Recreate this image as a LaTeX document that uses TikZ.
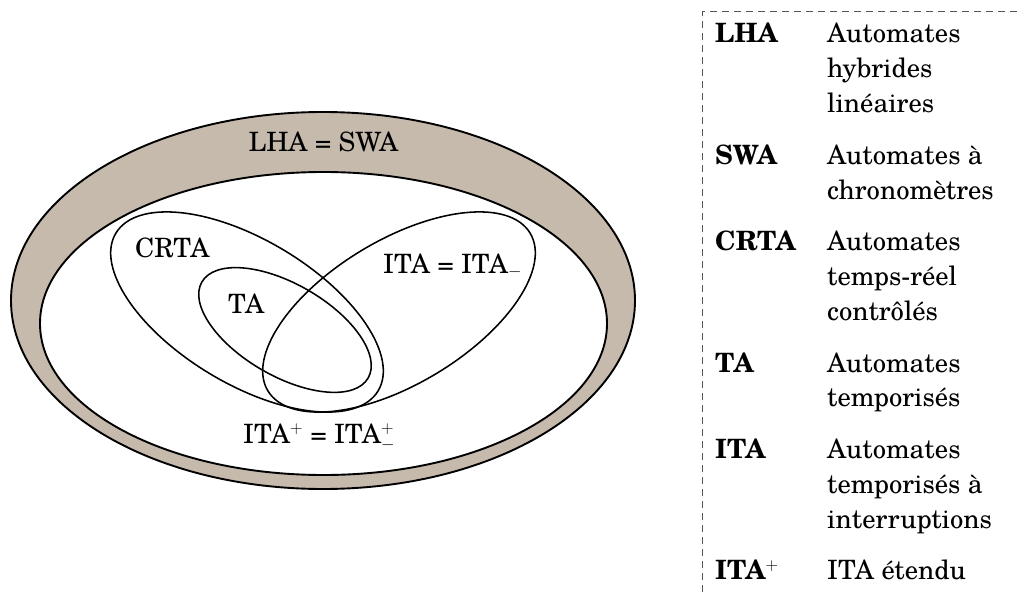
\documentclass[tikz,border=0pt]{standalone}
\usepackage{fontspec}
\setmainfont{TeX Gyre Schola}
\definecolor{band}{RGB}{198,186,173}
\definecolor{dashc}{RGB}{85,85,85}
\begin{document}
\begin{tikzpicture}[x=1pt,y=-1pt,
  txt/.style={inner sep=0pt,anchor=base west,font=\fontsize{26.6}{34.8}\selectfont},
  ctxt/.style={txt,anchor=base},
  abbr/.style={txt,font=\fontsize{26.6}{34.8}\selectfont\bfseries},
  outerline/.style={line width=1.9pt,draw=black},
  venn/.style={line width=1.55pt,draw=black},
  legendbox/.style={draw=dashc,line width=1pt,dash pattern=on 7pt off 5pt}]
\useasboundingbox (0,0) rectangle (1017,596);
% bands
\draw[outerline,fill=band] (323,300.5) ellipse [x radius=312pt, y radius=188.5pt];
\draw[outerline,fill=white] (323.5,323.5) ellipse [x radius=283.5pt, y radius=151.5pt];
% inner sets
\draw[venn,rotate around={-31:(247,312)}] (247,312) ellipse [x radius=153pt, y radius=72pt];
\draw[venn,rotate around={31:(399,312)}] (399,312) ellipse [x radius=153pt, y radius=72pt];
\draw[venn,rotate around={-30:(285,330)}] (285,330) ellipse [x radius=96pt, y radius=46pt];
% labels
\node[ctxt] (lha) at (323.5,152) {LHA = SWA};
\node[txt] (crta) at (135,257) {CRTA};
\node[txt] (ta) at (228,313) {TA};
\node[txt] (ita) at (383,273) {ITA = ITA$_{-}$};
\node[txt] (itap) at (243,443) {ITA$^{+}$ = ITA$^{+}_{-}$};
% legend box
\coordinate (bxr) at (1017,12);
\coordinate (bxc) at (702,12);
\coordinate (bxb) at (702,596);
\draw[legendbox] (bxr) -- (bxc) -- (bxb);
% legend
\node[abbr] (k1) at (715,43) {LHA};
\node[txt] (d1a) at (827,43) {Automates};
\node[txt] (d1b) at (827,77.8) {hybrides};
\node[txt] (d1c) at (827,112.6) {linéaires};
\node[abbr] (k2) at (715,164.3) {SWA};
\node[txt] (d2a) at (827,164.3) {Automates à};
\node[txt] (d2b) at (827,199.1) {chronomètres};
\node[abbr] (k3) at (715,250.8) {CRTA};
\node[txt] (d3a) at (827,250.8) {Automates};
\node[txt] (d3b) at (827,285.6) {temps-réel};
\node[txt] (d3c) at (827,320.4) {contrôlés};
\node[abbr] (k4) at (715,372.1) {TA};
\node[txt] (d4a) at (827,372.1) {Automates};
\node[txt] (d4b) at (827,406.9) {temporisés};
\node[abbr] (k5) at (715,458.6) {ITA};
\node[txt] (d5a) at (827,458.6) {Automates};
\node[txt] (d5b) at (827,493.4) {temporisés à};
\node[txt] (d5c) at (827,528.2) {interruptions};
\node[abbr] (k6) at (715,579.9) {ITA$^{+}$};
\node[txt] (d6a) at (827,579.9) {ITA étendu};
\end{tikzpicture}
\end{document}
